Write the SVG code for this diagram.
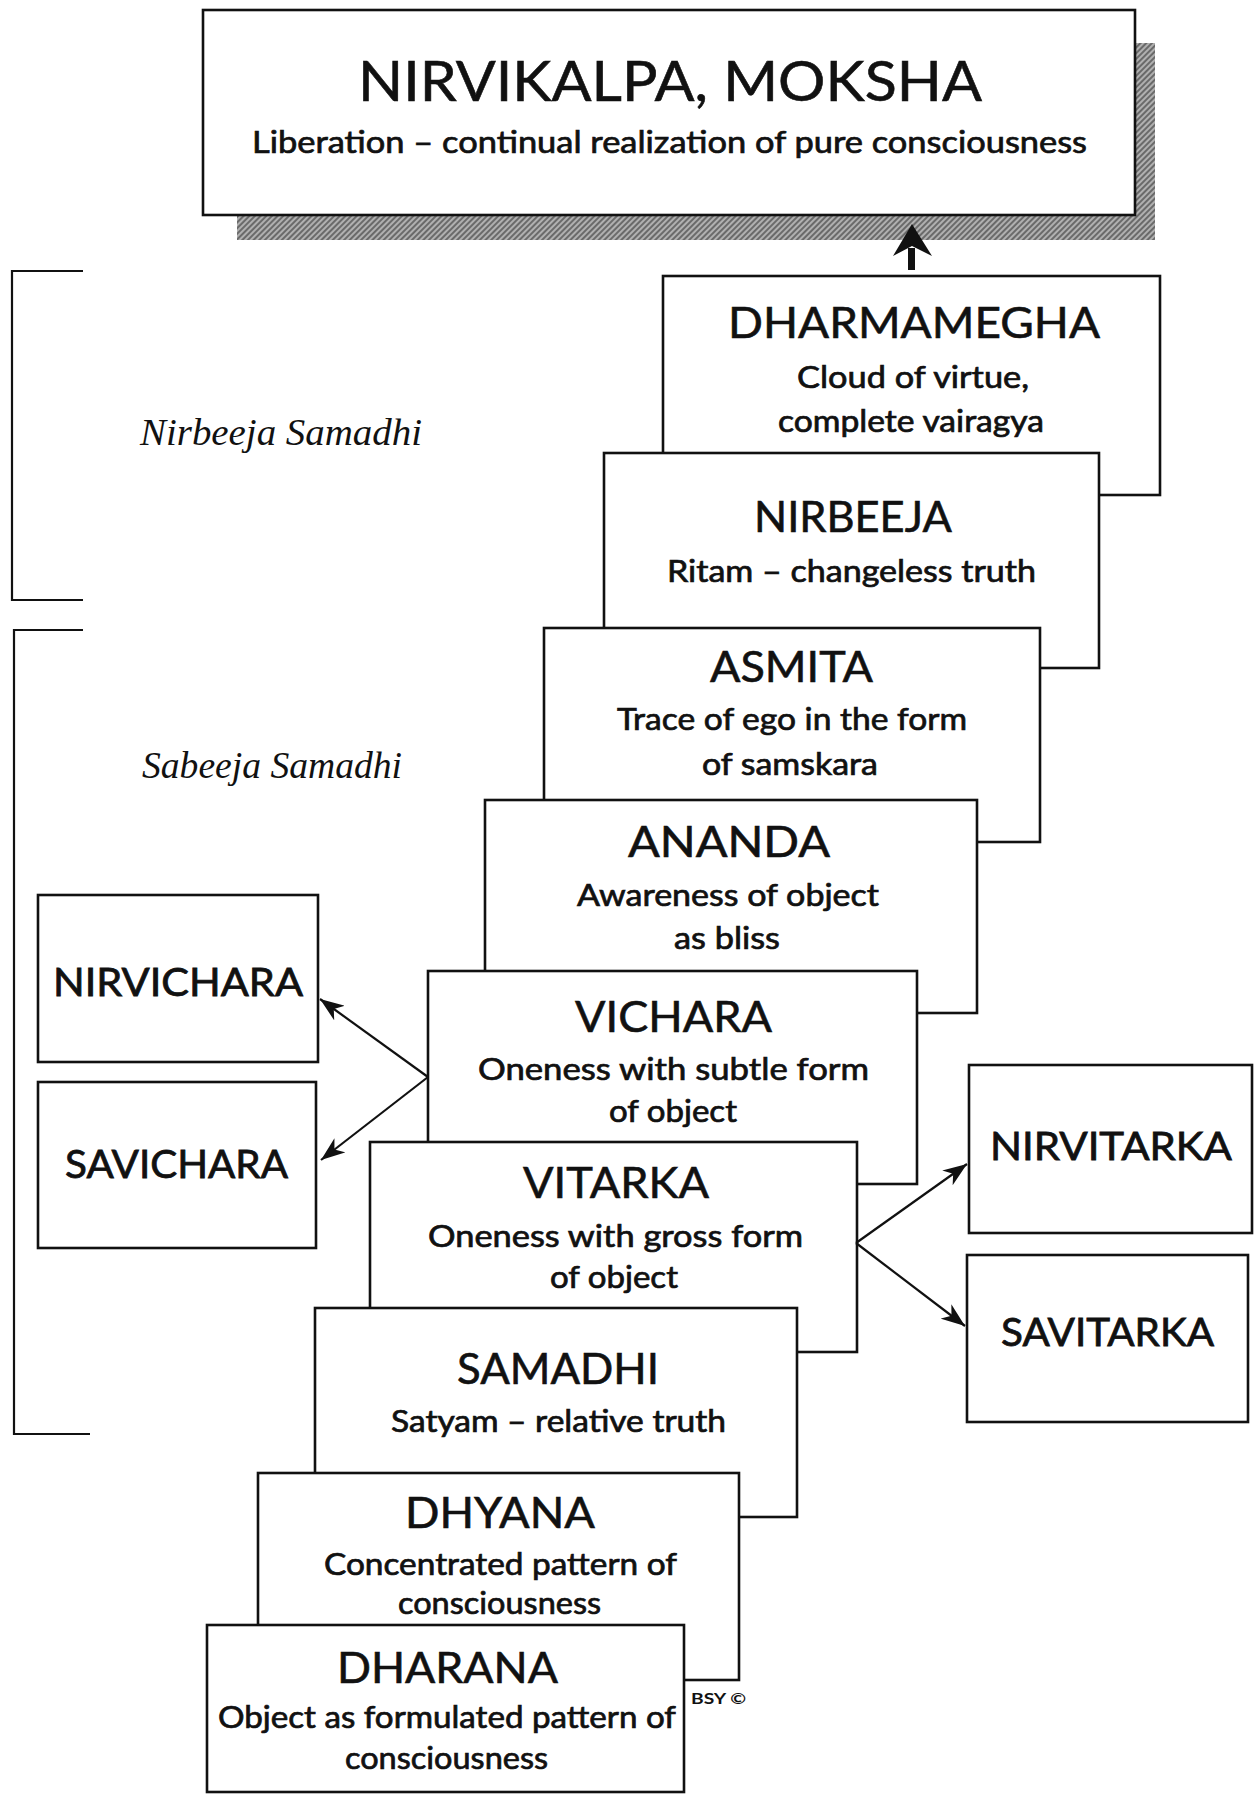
<svg xmlns="http://www.w3.org/2000/svg" width="1259" height="1796" viewBox="0 0 1259 1796">
<style>
.box{fill:#fff;stroke:#111;stroke-width:2.6}
.h{font-family:Lato,"Open Sans","DejaVu Sans",sans-serif;font-size:42px;fill:#111;stroke:#111;stroke-width:0.6}
.s{font-family:Lato,"Open Sans","DejaVu Sans",sans-serif;font-size:30px;fill:#111;stroke:#111;stroke-width:0.7}
.side{font-family:Lato,"Open Sans","DejaVu Sans",sans-serif;font-size:39px;fill:#111;stroke:#111;stroke-width:0.8}
.it{font-family:"Liberation Serif","Times New Roman",serif;font-style:italic;font-size:37px;fill:#111}
.br{fill:none;stroke:#111;stroke-width:2.2}
.con{fill:none;stroke:#111;stroke-width:2.2}
</style>
<defs>
<pattern id="ht" width="4" height="4" patternUnits="userSpaceOnUse" patternTransform="rotate(45)">
<rect width="4" height="4" fill="#b0b0b0"/>
<rect width="2" height="4" fill="#6a6a6a"/>
</pattern>
<marker id="ah" markerWidth="26" markerHeight="18" refX="24" refY="9" orient="auto" markerUnits="userSpaceOnUse">
<path d="M0,0 L24,9 L0,18 L7,9 Z" fill="#111"/>
</marker>
</defs>
<rect width="1259" height="1796" fill="#fff"/>

<g id="brackets">
<path class="br" d="M83,271 H12 V600 H83"/>
<path class="br" d="M83,630 H14 V1434 H90"/>
<text class="it" x="140" y="445" textLength="282" lengthAdjust="spacingAndGlyphs">Nirbeeja Samadhi</text>
<text class="it" x="142" y="778" textLength="260" lengthAdjust="spacingAndGlyphs">Sabeeja Samadhi</text>
</g>

<g id="nirvikalpa">
<rect x="237" y="43" width="918" height="197" fill="url(#ht)"/>
<rect class="box" x="203" y="10" width="932" height="205"/>
<text class="h" x="358" y="101" style="font-size:56px" textLength="624" lengthAdjust="spacingAndGlyphs">NIRVIKALPA, MOKSHA</text>
<text class="s" x="252" y="153" textLength="835" lengthAdjust="spacingAndGlyphs">Liberation – continual realization of pure consciousness</text>
</g>

<g id="dharmamegha">
<rect class="box" x="663" y="276" width="497" height="219"/>
<text class="h" x="728" y="338" textLength="372" lengthAdjust="spacingAndGlyphs">DHARMAMEGHA</text>
<text class="s" x="797" y="388" textLength="232" lengthAdjust="spacingAndGlyphs">Cloud of virtue,</text>
<text class="s" x="778" y="432" textLength="266" lengthAdjust="spacingAndGlyphs">complete vairagya</text>
</g>

<g id="nirbeeja">
<rect class="box" x="604" y="453" width="495" height="215"/>
<text class="h" x="754" y="532" textLength="198" lengthAdjust="spacingAndGlyphs">NIRBEEJA</text>
<text class="s" x="667" y="582" textLength="369" lengthAdjust="spacingAndGlyphs">Ritam – changeless truth</text>
</g>

<g id="asmita">
<rect class="box" x="544" y="628" width="496" height="214"/>
<text class="h" x="710" y="682" textLength="163" lengthAdjust="spacingAndGlyphs">ASMITA</text>
<text class="s" x="617" y="730" textLength="350" lengthAdjust="spacingAndGlyphs">Trace of ego in the form</text>
<text class="s" x="702" y="775" textLength="176" lengthAdjust="spacingAndGlyphs">of samskara</text>
</g>

<g id="ananda">
<rect class="box" x="485" y="800" width="492" height="213"/>
<text class="h" x="628" y="857" textLength="202" lengthAdjust="spacingAndGlyphs">ANANDA</text>
<text class="s" x="577" y="906" textLength="302" lengthAdjust="spacingAndGlyphs">Awareness of object</text>
<text class="s" x="674" y="949" textLength="106" lengthAdjust="spacingAndGlyphs">as bliss</text>
</g>

<g id="vichara">
<rect class="box" x="428" y="971" width="489" height="213"/>
<text class="h" x="575" y="1032" textLength="197" lengthAdjust="spacingAndGlyphs">VICHARA</text>
<text class="s" x="478" y="1080" textLength="391" lengthAdjust="spacingAndGlyphs">Oneness with subtle form</text>
<text class="s" x="609" y="1122" textLength="128" lengthAdjust="spacingAndGlyphs">of object</text>
</g>

<g id="vitarka">
<rect class="box" x="370" y="1142" width="487" height="210"/>
<text class="h" x="523" y="1198" textLength="186" lengthAdjust="spacingAndGlyphs">VITARKA</text>
<text class="s" x="428" y="1247" textLength="375" lengthAdjust="spacingAndGlyphs">Oneness with gross form</text>
<text class="s" x="550" y="1288" textLength="128" lengthAdjust="spacingAndGlyphs">of object</text>
</g>

<g id="samadhi">
<rect class="box" x="315" y="1308" width="482" height="209"/>
<text class="h" x="457" y="1384" textLength="202" lengthAdjust="spacingAndGlyphs">SAMADHI</text>
<text class="s" x="391" y="1432" textLength="335" lengthAdjust="spacingAndGlyphs">Satyam – relative truth</text>
</g>

<g id="dhyana">
<rect class="box" x="258" y="1473" width="481" height="207"/>
<text class="h" x="405" y="1528" textLength="190" lengthAdjust="spacingAndGlyphs">DHYANA</text>
<text class="s" x="324" y="1575" textLength="353" lengthAdjust="spacingAndGlyphs">Concentrated pattern of</text>
<text class="s" x="398" y="1614" textLength="203" lengthAdjust="spacingAndGlyphs">consciousness</text>
</g>

<g id="dharana">
<rect class="box" x="207" y="1625" width="477" height="167"/>
<text class="h" x="337" y="1683" textLength="221" lengthAdjust="spacingAndGlyphs">DHARANA</text>
<text class="s" x="218" y="1728" textLength="458" lengthAdjust="spacingAndGlyphs">Object as formulated pattern of</text>
<text class="s" x="345" y="1769" textLength="203" lengthAdjust="spacingAndGlyphs">consciousness</text>
</g>

<g id="bsy">
<text x="691" y="1704" style="font-family:Lato,'DejaVu Sans',sans-serif;font-size:15px;font-weight:bold;fill:#111" textLength="55" lengthAdjust="spacingAndGlyphs">BSY ©</text>
</g>

<g id="nirvichara">
<rect class="box" x="38" y="895" width="280" height="167"/>
<text class="side" x="53" y="996" textLength="250" lengthAdjust="spacingAndGlyphs">NIRVICHARA</text>
</g>

<g id="savichara">
<rect class="box" x="38" y="1082" width="278" height="166"/>
<text class="side" x="65" y="1178" textLength="223" lengthAdjust="spacingAndGlyphs">SAVICHARA</text>
</g>

<g id="nirvitarka">
<rect class="box" x="969" y="1065" width="283" height="168"/>
<text class="side" x="990" y="1160" textLength="242" lengthAdjust="spacingAndGlyphs">NIRVITARKA</text>
</g>

<g id="savitarka">
<rect class="box" x="967" y="1255" width="281" height="167"/>
<text class="side" x="1001" y="1346" textLength="213" lengthAdjust="spacingAndGlyphs">SAVITARKA</text>
</g>

<g id="connectors">
<rect x="908" y="248" width="7" height="22" fill="#111"/>
<path d="M912,224 L932,256 L912,246 L893,256 Z" fill="#111"/>
<line class="con" x1="428" y1="1077" x2="320" y2="999" marker-end="url(#ah)"/>
<line class="con" x1="428" y1="1077" x2="321" y2="1160" marker-end="url(#ah)"/>
<line class="con" x1="856" y1="1243" x2="967" y2="1164" marker-end="url(#ah)"/>
<line class="con" x1="856" y1="1243" x2="965" y2="1326" marker-end="url(#ah)"/>
</g>
</svg>
